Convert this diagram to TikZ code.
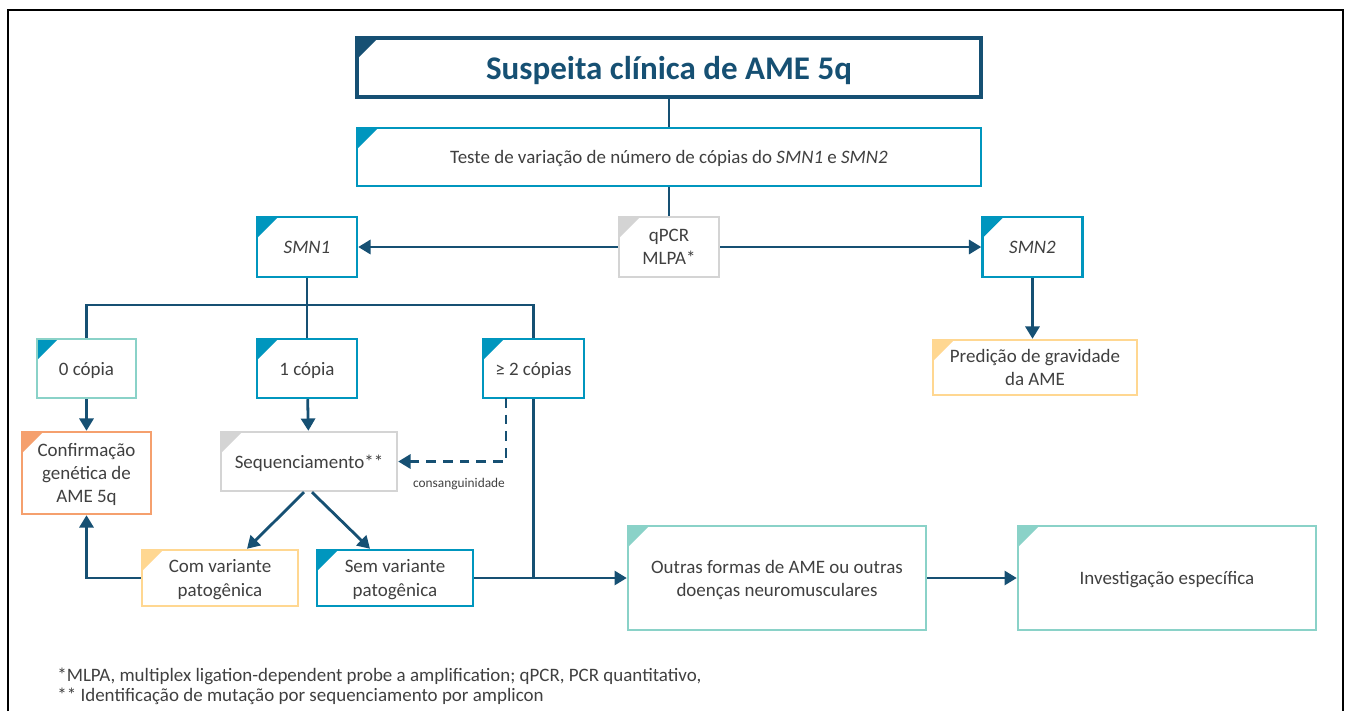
\documentclass[tikz,border=0pt]{standalone}
\usepackage{fontspec}
\setmainfont{Carlito}
\usetikzlibrary{arrows.meta}
\definecolor{navyColor}{RGB}{22,80,115}
\definecolor{tealColor}{RGB}{0,150,190}
\definecolor{mintColor}{RGB}{138,210,200}
\definecolor{greyColor}{RGB}{212,212,212}
\definecolor{orangeColor}{RGB}{245,160,110}
\definecolor{peachColor}{RGB}{255,215,145}
\definecolor{textColor}{RGB}{64,64,64}

\begin{document}
\begin{tikzpicture}[x=0.02cm, y=-0.02cm]

            \tikzset{cornerMark/.style={path picture={\fill[#1] (path picture bounding box.north west) -- ++(0.42cm,0cm) -- ++(-0.42cm,-0.42cm) -- cycle;}}}
            \tikzstyle{flowBox} = [draw, fill=white, line width=1.4pt, text=textColor, align=center, inner sep=2pt, text depth=0pt, font=\fontsize{10.8}{13.2}\selectfont];
            \tikzstyle{tealBox} = [flowBox, draw=tealColor, cornerMark=tealColor];
            \tikzstyle{mintBox} = [flowBox, draw=mintColor, cornerMark=mintColor];
            \tikzstyle{greyBox} = [flowBox, draw=greyColor, cornerMark=greyColor];
            \tikzstyle{peachBox} = [flowBox, draw=peachColor, cornerMark=peachColor];
            \tikzstyle{orangeBox} = [flowBox, draw=orangeColor, cornerMark=orangeColor];
            \tikzstyle{flowEdge} = [draw=navyColor, line width=1.6pt];
            \tikzstyle{flowArrow} = [flowEdge, -{Triangle[length=7pt,width=8pt]}];

            \useasboundingbox (0,0) rectangle (1346,711);
            \draw[line width=1.2pt] (8,711) -- (8,10) -- (1343,10) -- (1343,711);

            \node[flowBox, draw=navyColor, line width=1.8pt, cornerMark=navyColor, text=navyColor, font=\fontsize{18.8}{22}\selectfont\bfseries, minimum width=12.48cm, minimum height=1.18cm] (title) at (669,67.5) {Suspeita clínica de AME 5q};
            \node[tealBox, minimum width=12.48cm, minimum height=1.16cm] (test) at (669,157) {Teste de variação de número de cópias do \textit{SMN1} e \textit{SMN2}};

            \node[greyBox, minimum width=2cm, minimum height=1.2cm] (method) at (669,247) {qPCR\\MLPA*};
            \node[tealBox, minimum width=2cm, minimum height=1.2cm] (smnA) at (307,247) {\textit{SMN1}};
            \node[tealBox, minimum width=2cm, minimum height=1.2cm] (smnB) at (1032.5,247) {\textit{SMN2}};

            \node[flowBox, draw=mintColor, cornerMark=tealColor, minimum width=1.98cm, minimum height=1.18cm] (zero) at (86.5,368.5) {0 cópia};
            \node[tealBox, minimum width=2cm, minimum height=1.18cm] (one) at (307,368.5) {1 cópia};
            \node[tealBox, minimum width=2.02cm, minimum height=1.18cm] (two) at (533.5,368.5) {≥ 2 cópias};
            \node[peachBox, minimum width=4.08cm, minimum height=1.1cm] (severity) at (1035,367.5) {Predição de gravidade\\da AME};

            \node[orangeBox, minimum width=2.58cm, minimum height=1.64cm] (confirm) at (86.5,473) {Confirmação\\genética de\\AME 5q};
            \node[greyBox, minimum width=3.52cm, minimum height=1.18cm] (seq) at (309,461.5) {Sequenciamento**};

            \node[peachBox, minimum width=3.12cm, minimum height=1.12cm] (withVar) at (220,578) {Com variante\\patogênica};
            \node[tealBox, minimum width=3.12cm, minimum height=1.12cm] (noVar) at (395,578) {Sem variante\\patogênica};
            \node[mintBox, minimum width=5.96cm, minimum height=2.08cm] (other) at (777,578) {Outras formas de AME ou outras\\doenças neuromusculares};
            \node[mintBox, minimum width=5.96cm, minimum height=2.08cm] (invest) at (1167,578) {Investigação específica};

            \node[text=textColor, font=\fontsize{7.6}{9}\selectfont] (consang) at (459,484) {consanguinidade};
            \node[text=textColor, font=\fontsize{10.8}{11.4}\selectfont, align=left, anchor=north west, inner sep=0pt] (notes) at (57,668) {*MLPA, multiplex ligation-dependent probe a amplification; qPCR, PCR quantitativo,\\** Identificação de mutação por sequenciamento por amplicon};

            \coordinate (split) at (307,305);
            \coordinate (merge) at (two.south |- noVar.east);
            \coordinate (dashTop) at (506,398);

            \draw[flowEdge] (title) -- (test);
            \draw[flowEdge] (test) -- (method);
            \draw[flowArrow] (method) -- (smnA);
            \draw[flowArrow] (method) -- (smnB);
            \draw[flowArrow] (smnB) -- (smnB |- severity.north);

            \draw[flowEdge] (smnA) -- (one);
            \draw[flowEdge] (zero.north) |- (split) -| (two.north);
            \draw[flowArrow] (zero) -- (confirm);
            \draw[flowArrow] (one) -- (seq);
            \draw[flowArrow, dash pattern=on 5.5pt off 4pt] (dashTop) |- (seq.east);

            \draw[flowArrow] ([xshift=-0.1cm]seq.south) -- ([xshift=0.54cm]withVar.north);
            \draw[flowArrow] ([xshift=0.06cm]seq.south) -- ([xshift=-0.5cm]noVar.north);
            \draw[flowArrow] (withVar.west) -| (confirm.south);

            \draw[flowEdge] (two.south) -- (merge);
            \draw[flowArrow] (noVar.east) -- (other.west);
            \draw[flowArrow] (other) -- (invest);
\end{tikzpicture}
\end{document}
